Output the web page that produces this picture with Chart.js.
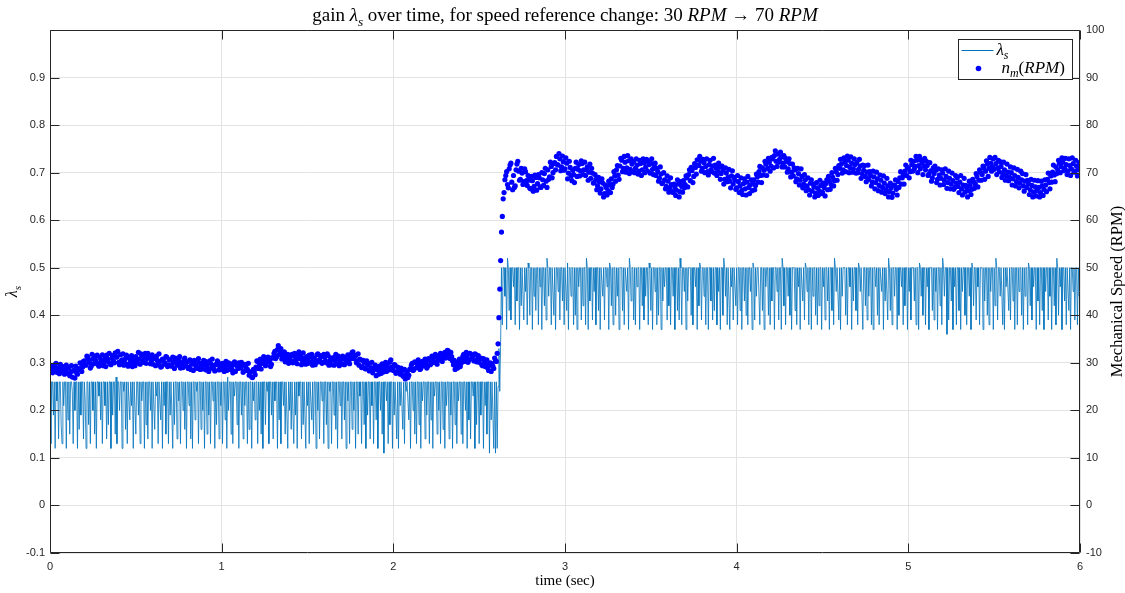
<!DOCTYPE html>
<html>
<head>
<meta charset="utf-8">
<script src="https://cdn.jsdelivr.net/npm/chart.js@4.4.1/dist/chart.umd.min.js"></script>
<style>
  html, body { margin: 0; padding: 0; background: #ffffff; }
  #wrap { width: 1125px; height: 593px; position: relative; }
</style>
</head>
<body>
<div id="wrap"><canvas id="chart"></canvas></div>
<script>
// Gain λs is logged every 5 ms; the speed is logged every 5 ms too,
// kept as two interleaved 10 ms channels (on the 10 ms grid and half a step later).
const LAMBDA_STEP = 0.005;
const SPEED_STEP = 0.01;
const SPEED_MID_OFFSET = 0.005;

// Gain λs in hundredths, t = 0.000 .. 2.595 s (one row = 0.1 s).
const lambdaBefore = [
  26,13,26,26,19,26,12,26,22,26, 14,26,26,17,13,26,21,26,26,12,
  26,18,26,15,26,26,24,13,26,20, 26,26,12,26,16,26,19,26,26,14,
  26,22,12,26,26,17,26,13,26,26, 20,26,15,26,12,26,26,23,26,18,
  26,13,26,26,21,26,14,26,17,26, 26,12,26,19,26,26,15,27,13,26,
  26,20,26,26,12,26,24,26,16,26, 13,26,26,18,26,21,26,12,26,26,
  15,26,26,19,26,13,26,22,26,26, 12,26,17,26,14,26,26,20,26,12,
  26,26,16,26,23,26,13,26,26,18, 26,12,26,21,26,15,26,26,13,26,
  19,26,26,12,26,17,26,26,14,26, 22,26,13,26,26,20,26,16,26,12,
  26,26,21,26,14,26,12,26,26,18, 26,24,26,13,26,26,16,26,20,26,
  12,26,26,15,26,19,26,13,26,26, 22,26,12,26,17,26,26,14,26,21,
  26,13,26,26,18,26,12,27,20,26, 26,15,26,13,26,23,26,26,17,26,
  12,26,26,19,26,14,26,21,26,26, 13,26,16,26,26,12,26,22,26,18,
  26,26,13,26,20,26,15,26,12,26, 26,17,26,24,26,13,26,26,19,26,
  14,26,22,26,26,12,26,18,26,13, 26,26,21,26,15,26,26,12,26,20,
  26,16,26,26,13,26,19,26,12,26, 23,26,26,14,26,17,26,26,12,26,
  21,26,13,26,26,18,26,15,26,26, 12,26,20,26,14,26,26,22,26,13,
  26,26,17,26,12,26,24,26,13,26, 26,19,26,16,26,12,26,26,21,26,
  14,26,26,18,26,12,26,22,26,13, 26,26,16,26,20,26,12,26,26,15,
  26,23,26,13,26,26,17,26,12,26, 19,26,26,14,26,21,26,13,26,26,
  18,26,12,26,26,20,26,15,26,11, 26,26,22,26,13,26,17,26,26,12,
  26,19,26,26,14,26,12,26,21,26, 26,16,26,13,26,24,26,26,18,26,
  12,26,26,20,26,15,26,13,26,26, 17,26,12,26,22,26,26,14,26,19,
  26,26,13,26,18,26,12,26,23,26, 26,15,26,20,26,13,26,26,16,26,
  12,26,21,26,26,14,26,19,26,12, 26,26,17,26,13,26,22,26,26,15,
  26,13,26,26,20,26,12,26,18,26, 14,26,26,23,26,12,26,17,26,26,
  13,26,19,26,26,12,26,21,26,15, 26,26,11,26,18,26,26,12,26,11
];
// Gain λs in hundredths during the step, t = 2.600 .. 2.625 s.
const lambdaStep = [26,12,25,33,24,34];
// Gain λs in hundredths after the change, t = 2.630 .. 6.000 s.
const lambdaAfter = [
  50,38,50,50,44,50,37,52,50,41, 50,39,50,50,46,50,38,50,43,50,
  50,37,50,42,50,50,39,50,45,50, 38,51,50,40,50,50,37,50,44,50,
  41,50,50,38,50,46,50,37,50,50, 42,50,39,52,50,44,50,50,38,50,
  50,40,50,37,50,50,45,50,39,50, 50,43,50,38,50,50,41,51,37,50,
  50,44,50,50,38,50,40,50,37,50, 46,50,50,39,50,42,50,50,38,52,
  50,37,50,43,50,50,39,50,45,50, 38,50,50,41,50,37,50,50,44,50,
  39,50,50,46,50,37,51,50,42,50, 38,50,50,40,50,44,50,37,50,50,
  50,41,50,38,50,50,45,50,37,52, 50,43,50,50,39,50,38,50,46,50,
  50,37,50,50,42,50,39,50,44,50, 50,38,51,50,41,50,37,50,50,45,
  50,38,50,40,50,50,37,50,43,50, 46,50,50,39,50,42,50,38,50,50,
  44,50,37,50,50,41,50,39,52,50, 38,50,50,45,50,37,50,43,50,50,
  50,40,50,38,50,50,46,50,37,50, 42,51,50,39,50,50,44,50,38,50,
  50,37,50,50,43,50,39,50,41,50, 50,38,50,45,50,37,50,50,40,52,
  50,44,50,38,50,50,37,50,46,50, 39,50,50,42,50,38,50,50,41,50,
  37,50,50,43,50,40,50,38,50,50, 45,50,37,51,50,39,50,44,50,50,
  50,38,50,50,41,50,37,50,46,50, 50,40,50,38,50,43,50,50,37,50,
  50,45,50,39,50,50,37,52,50,42, 50,38,50,50,44,50,40,50,37,50,
  50,50,41,50,38,50,46,50,37,50, 50,43,50,39,51,50,45,50,38,50,
  50,37,50,44,50,50,40,50,38,50, 42,50,50,37,50,46,50,39,50,50,
  43,50,37,50,50,41,50,38,52,50, 45,50,50,39,50,37,50,44,50,50,
  50,40,50,38,50,50,46,50,37,50, 43,50,50,41,50,38,51,50,45,50,
  50,37,50,50,42,50,39,50,44,50, 50,38,50,37,50,50,46,50,40,50,
  38,50,50,45,50,37,50,43,50,50, 39,52,50,41,50,38,50,50,44,50,
  50,37,50,40,50,50,46,50,38,50, 42,50,50,37,50,45,50,39,50,50,
  50,43,50,38,50,50,37,51,50,44, 50,40,50,50,38,50,46,50,37,50,
  50,50,41,50,39,50,45,50,37,50, 50,42,50,38,52,50,44,50,50,36,
  50,39,50,50,43,50,37,50,46,50, 38,50,50,41,50,37,50,45,50,50,
  40,50,38,50,50,44,50,37,51,50, 42,50,50,39,50,46,50,38,50,50,
  50,37,50,43,50,50,40,50,38,50, 45,50,50,37,50,42,52,50,39,50,
  50,44,50,50,38,50,37,50,46,50, 50,41,50,39,50,50,43,50,37,50,
  50,38,50,45,50,50,40,50,37,50, 44,50,50,38,51,50,42,50,39,50,
  46,50,50,37,50,43,50,38,50,50, 41,50,37,50,45,50,50,39,50,44,
  50,37,50,50,42,50,38,52,50,40, 50,46,50,37,50,50,43,50,38,50,
  50,41,50,37,50,50,45,50,39,50, 50,38,50,44,50
];

// Mechanical speed n_m in RPM on the 10 ms grid, t = 0.00 .. 2.60 s (one row = 0.1 s).
const speedBefore = [
  28.2,29.1,28.4,29.6,28.0,28.9,29.7,28.3,29.2,28.6,
  27.8,29.0,28.1,27.0,28.4,29.3,27.6,28.8,29.9,29.1,
  30.4,29.5,31.2,30.1,29.3,30.8,31.4,30.0,29.6,31.1,
  30.5,29.4,30.9,31.6,30.2,29.8,31.0,30.3,32.1,31.2,
  30.1,31.7,30.6,29.5,30.9,31.3,29.8,30.4,29.2,30.7,
  31.3,30.0,30.8,31.9,30.4,31.2,29.9,32.0,31.1,30.3,
  29.7,30.9,31.4,29.6,30.3,29.2,30.7,30.0,31.2,29.5,
  30.6,29.3,30.1,31.0,29.6,30.4,28.9,29.8,30.5,29.4,
  30.2,29.1,28.6,29.9,30.5,29.3,28.8,30.0,29.4,28.7,
  29.6,28.5,29.9,30.4,28.9,29.4,28.3,29.7,30.1,29.0,
  28.6,29.8,29.1,28.4,30.0,29.3,28.7,29.6,28.2,29.4,
  30.0,28.9,29.5,28.3,29.2,28.6,27.4,28.1,26.9,28.3,
  29.1,30.3,29.4,28.7,30.0,30.8,29.6,31.2,30.3,29.7,
  31.0,32.4,31.3,33.6,32.1,30.8,31.5,30.2,31.1,29.9,
  30.6,31.8,30.3,31.2,29.8,32.3,31.4,30.5,31.0,29.7,
  30.9,31.6,30.2,29.5,31.0,30.4,31.9,30.7,31.3,30.1,
  31.2,30.0,31.5,30.4,29.6,31.1,30.5,29.8,31.4,30.2,
  29.7,30.8,29.9,31.2,30.3,31.7,32.2,30.9,31.5,30.4,
  29.5,30.6,29.2,30.1,28.7,29.6,28.3,29.0,27.9,28.8,
  27.3,28.5,29.3,27.8,28.9,29.6,28.2,29.9,30.2,29.1,
  28.4,29.5,28.0,28.9,27.6,28.3,27.1,26.6,28.0,27.4,
  28.8,29.9,28.6,30.1,29.2,29.7,28.8,30.3,29.4,30.0,
  29.3,30.6,29.8,30.9,30.2,31.3,30.5,31.6,30.8,31.2,
  32.2,31.4,32.5,30.9,31.3,29.6,28.6,29.8,30.3,29.2,
  30.5,31.8,30.9,31.5,30.6,31.9,31.1,30.4,31.8,30.8,
  30.1,31.0,29.4,30.5,29.7,28.9,29.5,28.2,29.3,31.0,
  30.3
];
// Speed during the step, t = 2.61 .. 2.69 s.
const speedStep = [34.0,45.5,57.5,64.5,68.5,70.2,66.8,71.6,68.0];
// Speed after the change, t = 2.70 .. 6.00 s.
const speedAfter = [
  69.4,67.2,71.8,70.3,68.6,69.9,68.1,70.2,67.3,68.4,
  66.6,68.3,67.1,69.0,67.7,68.9,66.9,68.5,69.8,68.2,
  70.6,69.1,71.3,70.0,72.1,73.4,71.6,72.9,71.2,72.3,
  70.8,72.0,69.9,71.1,68.3,69.6,70.9,69.2,71.7,70.4,
  71.9,70.6,69.4,71.2,70.1,68.8,69.9,67.9,68.6,67.2,
  68.1,66.6,67.8,65.6,66.9,66.2,67.4,68.7,67.6,69.3,
  70.6,69.5,71.4,72.6,70.9,72.2,71.0,72.5,70.7,71.8,
  72.3,70.9,71.6,70.3,71.9,70.6,72.1,71.2,70.4,71.7,
  72.0,70.7,71.3,69.4,70.2,68.8,69.7,67.9,68.5,67.1,
  68.2,66.8,67.5,65.8,66.9,66.3,67.6,66.0,67.1,68.3,
  67.5,68.9,69.6,68.3,70.4,69.2,71.1,72.7,71.5,72.4,
  70.9,72.1,71.3,70.2,71.7,70.6,71.4,69.9,71.0,70.3,
  71.2,69.8,70.5,68.6,69.9,69.0,68.2,69.3,67.6,68.4,
  66.8,68.1,67.2,66.3,67.7,66.6,68.0,66.9,67.4,66.2,
  68.5,67.3,69.1,70.2,69.4,71.0,70.5,71.8,70.9,72.2,
  71.4,72.9,73.6,72.4,73.9,72.8,73.3,72.0,71.2,72.3,
  70.8,71.9,70.1,69.3,70.6,68.7,69.8,68.4,69.2,67.6,
  68.5,67.2,66.4,67.8,66.1,67.0,65.7,66.8,66.2,67.3,
  65.9,66.9,67.7,66.4,68.2,67.5,69.0,68.3,70.2,69.6,
  70.9,71.8,70.6,72.3,71.5,72.6,71.1,72.0,70.8,71.7,
  72.1,70.7,71.4,69.8,70.5,69.2,70.1,68.6,69.4,68.0,
  69.1,67.9,68.7,67.3,68.4,66.9,67.8,66.4,67.2,66.0,
  66.8,65.7,67.3,66.5,68.1,68.9,67.6,69.5,70.3,69.4,
  71.0,70.2,71.7,72.4,71.3,72.6,71.5,70.8,72.1,71.4,
  70.6,71.5,69.7,70.4,68.9,69.8,70.5,68.6,69.5,68.8,
  69.9,68.4,69.2,67.9,68.8,67.6,68.3,66.9,67.8,67.1,
  68.0,66.6,67.4,65.9,66.8,66.2,67.3,66.5,68.1,67.6,
  69.2,68.4,70.1,69.6,71.0,70.3,71.8,70.9,72.0,71.2,
  70.7,71.9,71.0,70.2,71.3,69.8,70.6,69.4,70.1,69.0,
  70.0,68.7,69.4,68.1,69.0,67.8,68.5,67.2,68.2,66.9,
  67.7,66.4,67.3,65.9,67.0,66.2,66.9,65.8,67.2,66.5,
  67.4,68.6,67.9,69.3,70.1,69.5,71.2,70.6,72.0,71.3,
  72.2,70.9,71.7,70.4,71.5,70.8,71.9,70.3,71.4,70.6,
  70.9
];

// Speed half a step later, t = 0.005 .. 2.595 s.
const speedMidBefore = [
  29.4,27.9,28.8,29.9,28.5,27.7,29.3,28.9,27.6,29.5,
  28.9,27.3,29.4,28.3,26.8,27.9,28.6,30.0,28.2,30.3,
  29.6,31.4,30.7,28.9,31.8,29.8,30.5,31.6,29.3,30.2,
  31.7,30.1,29.2,30.8,32.0,29.6,31.5,30.0,31.2,32.4,
  29.6,30.4,31.9,30.0,31.6,29.3,30.9,31.5,30.1,29.4,
  30.6,32.2,29.7,31.5,30.1,32.0,30.9,31.4,29.8,31.7,
  31.0,29.4,30.5,31.9,29.1,30.8,29.7,31.3,29.2,30.6,
  29.4,31.2,28.8,30.6,29.5,31.3,30.0,29.0,31.0,30.2,
  28.8,30.6,29.7,28.4,30.2,29.0,30.9,28.6,29.9,30.5,
  30.3,29.1,28.2,29.9,30.8,28.7,29.6,30.4,28.5,29.4,
  29.9,28.2,30.3,29.5,28.6,29.8,27.9,30.2,29.6,28.8,
  29.2,30.1,28.0,29.7,28.4,29.9,28.0,27.0,28.6,27.5,
  30.4,28.8,30.8,29.9,31.3,29.4,30.5,31.0,29.2,31.1,
  32.0,30.9,32.8,31.7,33.0,31.2,32.3,30.6,31.8,30.7,
  31.5,30.0,32.0,30.7,31.9,30.9,29.6,32.1,30.2,31.3,
  29.9,31.2,31.8,30.5,29.6,31.7,30.2,31.5,29.9,31.8,
  30.4,31.9,29.5,31.0,30.7,29.5,31.8,30.9,29.4,31.0,
  31.4,29.6,30.6,31.7,29.8,30.9,32.3,31.5,30.0,31.9,
  30.8,29.0,30.5,28.8,30.4,29.9,28.6,30.1,28.6,29.5,
  28.6,27.6,28.8,29.8,28.1,30.1,29.0,28.5,30.6,28.9,
  29.6,27.8,29.1,28.5,28.9,27.3,28.6,27.5,26.9,28.6,
  29.5,28.4,30.2,29.0,30.6,28.6,29.9,29.4,30.8,28.9,
  30.9,29.6,31.4,30.1,31.8,29.7,30.9,32.0,30.3,31.9,
  31.0,32.6,31.8,32.2,30.4,30.5,29.2,28.9,30.8,29.9,
  31.4,30.3,32.2,30.1,32.0,30.8,31.5,31.9,30.2,31.5,
  30.8,29.6,30.9,29.2,30.6,28.4,30.0,29.8,28.8,30.5
];
// Speed half a step later during the step, t = 2.605 .. 2.695 s.
const speedMidStep = [32.0,39.5,51.5,60.8,65.8,69.4,67.5,70.8,72.0,66.4];
// Speed half a step later after the change, t = 2.705 .. 5.995 s.
const speedMidAfter = [
  66.9,70.6,72.4,68.4,70.9,67.5,70.8,68.3,69.4,66.7,
  69.2,66.1,69.5,66.3,69.6,67.0,70.0,67.3,70.9,66.9,
  68.6,72.2,68.9,71.9,70.6,71.7,74.0,70.4,73.5,70.5,
  73.1,68.7,72.4,69.3,70.5,67.9,72.2,70.7,69.3,72.5,
  69.6,72.2,70.6,68.4,71.8,70.9,67.8,69.6,66.4,69.0,
  65.7,68.7,64.9,67.4,65.3,68.2,65.8,66.9,70.2,68.2,
  71.5,68.6,73.0,70.2,73.4,70.1,73.6,69.8,72.9,70.2,
  70.0,72.9,69.7,72.6,69.4,72.9,70.0,72.8,72.3,69.9,
  72.9,69.6,72.0,70.9,68.2,71.2,67.7,70.0,66.6,69.3,
  65.9,68.9,66.0,67.6,65.2,68.5,64.9,68.1,65.9,66.8,
  69.3,67.0,70.6,71.1,67.9,71.9,69.7,71.6,73.4,70.3,
  72.8,70.0,72.9,69.5,72.6,70.2,73.0,71.6,69.4,72.0,
  68.6,71.4,67.6,71.0,68.1,70.7,66.8,70.4,69.0,66.5,
  69.4,65.8,68.9,65.4,68.7,65.3,69.2,65.6,68.5,68.0,
  66.4,69.7,68.0,71.3,67.9,69.5,72.4,69.4,73.0,70.3,
  73.2,71.0,74.6,71.3,72.2,74.3,71.2,73.6,73.0,70.1,
  72.9,69.1,71.8,71.0,68.1,70.9,67.4,70.8,66.8,69.6,
  66.2,68.9,65.3,68.5,67.6,64.9,67.9,65.2,68.4,65.6,
  67.8,65.1,68.5,69.2,66.5,70.0,67.2,70.9,68.4,71.5,
  72.8,69.9,73.1,70.2,73.5,70.0,73.3,70.1,72.9,69.9,
  70.0,72.8,68.8,71.6,71.5,68.1,71.6,70.2,67.2,70.3,
  66.6,70.1,66.2,69.5,65.9,69.3,65.6,68.8,64.9,67.8,
  64.8,67.4,68.5,65.3,66.9,70.2,68.9,67.6,71.6,71.0,
  68.9,72.6,70.3,70.8,73.4,70.0,73.4,72.6,69.6,73.0,
  72.4,69.4,72.1,68.2,71.0,71.4,67.9,70.8,67.4,70.6,
  67.5,70.8,66.7,70.3,66.6,69.9,66.5,69.4,68.9,65.8,
  69.4,65.3,68.8,67.3,64.9,68.2,65.4,68.6,66.7,69.8,
  67.0,70.6,68.4,71.4,68.6,72.5,69.2,73.2,70.3,72.9,
  73.2,69.6,72.6,72.3,69.0,72.2,68.4,71.8,68.3,71.2,
  67.4,71.0,67.2,70.7,66.8,70.3,69.8,66.1,69.6,68.4,
  65.4,68.6,64.9,68.4,65.1,68.3,64.9,68.2,65.2,68.5,
  66.0,69.9,66.6,68.0,71.6,68.1,69.8,72.6,70.0,73.1,
  70.4,73.0,69.6,72.9,69.4,73.1,70.1,72.6,69.3,72.1
];

// Axis ranges and tick values
const timeTicks = [0, 1, 2, 3, 4, 5, 6];
const lambdaRange = [-0.1, 1.0];
const speedRange = [-10, 100];

const lambdaSeries = [...lambdaBefore, ...lambdaStep, ...lambdaAfter]
  .map((v, i) => ({ x: +(i * LAMBDA_STEP).toFixed(3), y: v / 100 }));
const speedGrid = [...speedBefore, ...speedStep, ...speedAfter]
  .map((v, i) => ({ x: +(i * SPEED_STEP).toFixed(3), y: v }));
const speedMid = [...speedMidBefore, ...speedMidStep, ...speedMidAfter]
  .map((v, i) => ({ x: +(SPEED_MID_OFFSET + i * SPEED_STEP).toFixed(3), y: v }));
const speedSeries = [...speedGrid, ...speedMid].sort((p, q) => p.x - q.x);

const INK = '#262626';
const GRID = '#e3e3e3';
const SANS = '"Liberation Sans", Arial, Helvetica, sans-serif';
const SERIF = '"Liberation Serif", "Times New Roman", "DejaVu Serif", serif';

// ---- mixed-style text (italic math symbols, subscripts) ----
function runFont(r, size) {
  const s = r.sub ? size * 0.7 : size;
  return (r.i ? 'italic ' : '') + s + 'px ' + SERIF;
}
function runsWidth(ctx, runs, size) {
  let w = 0;
  for (const r of runs) { ctx.font = runFont(r, size); w += ctx.measureText(r.t).width; }
  return w;
}
function drawRuns(ctx, runs, x, y, size, align) {
  const w = runsWidth(ctx, runs, size);
  let cx = align === 'center' ? x - w / 2 : (align === 'right' ? x - w : x);
  ctx.textBaseline = 'alphabetic';
  ctx.textAlign = 'left';
  for (const r of runs) {
    ctx.font = runFont(r, size);
    ctx.fillText(r.t, cx, y + (r.sub ? size * 0.25 : 0));
    cx += ctx.measureText(r.t).width;
  }
}

const titleRuns = [
  { t: 'gain ' }, { t: 'λ', i: 1 }, { t: 's', i: 1, sub: 1 },
  { t: ' over time, for speed reference change: 30 ' }, { t: 'RPM', i: 1 },
  { t: ' → 70 ' }, { t: 'RPM', i: 1 }
];
const lambdaLabelRuns = [{ t: 'λ', i: 1 }, { t: 's', i: 1, sub: 1 }];
const speedLabelRuns = [{ t: 'n', i: 1 }, { t: 'm', i: 1, sub: 1 }, { t: '(' }, { t: 'RPM', i: 1 }, { t: ')' }];

// Axes box, inward ticks, titles and legend
const decorations = {
  id: 'decorations',
  afterDraw(chart) {
    const { ctx, chartArea: a, scales } = chart;
    const L = Math.round(a.left) + 0.5, R = Math.round(a.right) - 0.5;
    const T = Math.round(a.top) + 0.5, B = Math.round(a.bottom) - 0.5;
    const TICK = 9;
    ctx.save();
    ctx.strokeStyle = INK;
    ctx.lineWidth = 1;
    ctx.beginPath();
    ctx.rect(L, T, R - L, B - T);
    for (const v of timeTicks) {
      const px = Math.round(scales.x.getPixelForValue(v)) + 0.5;
      ctx.moveTo(px, B); ctx.lineTo(px, B - TICK);
      ctx.moveTo(px, T); ctx.lineTo(px, T + TICK);
    }
    for (const t of scales.y.ticks) {
      const py = Math.round(scales.y.getPixelForValue(t.value)) + 0.5;
      ctx.moveTo(L, py); ctx.lineTo(L + TICK, py);
    }
    for (const t of scales.y1.ticks) {
      const py = Math.round(scales.y1.getPixelForValue(t.value)) + 0.5;
      ctx.moveTo(R, py); ctx.lineTo(R - TICK, py);
    }
    ctx.stroke();

    ctx.fillStyle = '#000000';
    // title
    drawRuns(ctx, titleRuns, (a.left + a.right) / 2, 21, 19, 'center');
    // x axis title
    ctx.font = '15px ' + SERIF;
    ctx.textAlign = 'center';
    ctx.textBaseline = 'alphabetic';
    ctx.fillText('time (sec)', (a.left + a.right) / 2, 585);
    // left axis title
    ctx.save();
    ctx.translate(17, (a.top + a.bottom) / 2);
    ctx.rotate(-Math.PI / 2);
    drawRuns(ctx, lambdaLabelRuns, 0, 0, 16, 'center');
    ctx.restore();
    // right axis title
    ctx.save();
    ctx.translate(1122, (a.top + a.bottom) / 2);
    ctx.rotate(-Math.PI / 2);
    ctx.font = '16.5px ' + SERIF;
    ctx.textAlign = 'center';
    ctx.fillText('Mechanical Speed (RPM)', 0, 0);
    ctx.restore();

    // legend
    const bx = 958.5, by = 39.5, bw = 114, bh = 40;
    ctx.fillStyle = '#ffffff';
    ctx.fillRect(bx, by, bw, bh);
    ctx.strokeStyle = INK;
    ctx.lineWidth = 1;
    ctx.strokeRect(bx, by, bw, bh);
    ctx.strokeStyle = chart.data.datasets[0].borderColor;
    ctx.beginPath();
    ctx.moveTo(bx + 3, by + 11); ctx.lineTo(bx + 35, by + 11);
    ctx.stroke();
    ctx.fillStyle = chart.data.datasets[1].backgroundColor;
    ctx.beginPath();
    ctx.arc(bx + 20, by + 29, 2.8, 0, Math.PI * 2);
    ctx.fill();
    ctx.fillStyle = '#000000';
    drawRuns(ctx, lambdaLabelRuns, bx + 38, by + 15, 17, 'left');
    drawRuns(ctx, speedLabelRuns, bx + 43, by + 33, 17, 'left');
    ctx.restore();
  }
};

const tickFont = { family: SANS, size: 11 };

new Chart(document.getElementById('chart'), {
  type: 'line',
  data: {
    datasets: [
      {
        label: 'λs',
        data: lambdaSeries,
        yAxisID: 'y',
        borderColor: '#0072BD',
        borderWidth: 0.8,
        pointRadius: 0,
        tension: 0,
        fill: false,
        order: 1
      },
      {
        type: 'scatter',
        label: 'nm(RPM)',
        data: speedSeries,
        yAxisID: 'y1',
        backgroundColor: '#0000FF',
        borderColor: '#0000FF',
        borderWidth: 0,
        pointRadius: 2.6,
        order: 0
      }
    ]
  },
  options: {
    responsive: true,
    maintainAspectRatio: false,
    animation: false,
    events: [],
    layout: { padding: { top: 30, left: 0, right: 0, bottom: 0 } },
    plugins: { legend: { display: false }, title: { display: false }, tooltip: { enabled: false } },
    scales: {
      x: {
        type: 'linear',
        min: timeTicks[0],
        max: timeTicks[timeTicks.length - 1],
        afterBuildTicks(s) { s.ticks = timeTicks.map(v => ({ value: v })); },
        ticks: { color: INK, font: tickFont, padding: 7, maxRotation: 0, callback: v => String(v) },
        grid: { color: GRID, drawTicks: false },
        border: { display: false },
        afterFit(s) { s.height = 40; }
      },
      y: {
        type: 'linear',
        position: 'left',
        min: lambdaRange[0],
        max: lambdaRange[1],
        ticks: {
          stepSize: 0.1, color: INK, font: tickFont, padding: 5,
          callback: v => (Math.abs(v - lambdaRange[1]) < 1e-9 ? '' : String(parseFloat(v.toFixed(1))))
        },
        grid: { color: GRID, drawTicks: false },
        border: { display: false },
        afterFit(s) { s.width = 50; }
      },
      y1: {
        type: 'linear',
        position: 'right',
        min: speedRange[0],
        max: speedRange[1],
        ticks: { stepSize: 10, color: INK, font: tickFont, padding: 6, callback: v => String(Math.round(v)) },
        grid: { display: false, drawTicks: false },
        border: { display: false },
        afterFit(s) { s.width = 45; }
      }
    }
  },
  plugins: [decorations]
});
</script>
</body>
</html>
